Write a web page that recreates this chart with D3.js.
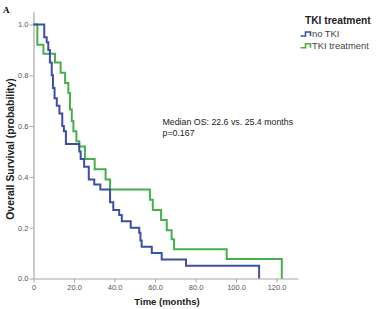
<!DOCTYPE html>
<html>
<head>
<meta charset="utf-8">
<script src="https://cdn.jsdelivr.net/npm/d3@7"></script>
<style>
  body { margin: 0; background: #fff; }
  svg { display: block; }
</style>
</head>
<body>
<div id="chart"></div>
<script>
// groups shown in the legend
const groupNames = ["no TKI", "TKI treatment"];
const groupColors = ["#3c4ea6", "#45b04a"];

// Kaplan-Meier steps (months, survival)
const noTkiTimes = [0, 5.3, 6.5, 7.3, 8.1, 9.0, 9.6, 10.4, 11.5, 12.8, 14.2, 15.0, 16.0, 22.6, 23.3, 25.0, 27.3, 30.0, 33.0, 37.8, 39.4, 42.3, 43.6, 48.0, 52.2, 52.8, 53.4, 58.4, 63.3, 75.3, 111.4];
const noTkiSurv  = [1, 0.95, 0.93, 0.90, 0.85, 0.80, 0.75, 0.71, 0.68, 0.65, 0.60, 0.58, 0.53, 0.50, 0.47, 0.44, 0.39, 0.37, 0.35, 0.30, 0.27, 0.25, 0.225, 0.20, 0.18, 0.15, 0.125, 0.10, 0.075, 0.05, 0];

const tkiTimes = [0, 1.9, 4.9, 10.6, 13.4, 15.6, 17.2, 18.0, 18.9, 19.7, 21.2, 22.6, 25.4, 30.2, 35.6, 37.8, 57.5, 58.9, 63.0, 65.8, 68.2, 69.4, 95.4, 122.6];
const tkiSurv  = [1, 0.92, 0.885, 0.85, 0.81, 0.77, 0.73, 0.665, 0.62, 0.58, 0.54, 0.52, 0.47, 0.43, 0.39, 0.35, 0.31, 0.27, 0.23, 0.19, 0.155, 0.115, 0.077, 0];

const xTicks = [0, 20, 40, 60, 80, 100, 120];
const yTicks = [0, 0.2, 0.4, 0.6, 0.8, 1.0];

const W = 377, H = 309;
const font = "'Liberation Sans', Arial, sans-serif";

let svg = d3.select("#chart")
    .append("svg")
    .attr("width", W)
    .attr("height", H)
    .style("background", "#fff");

// scales
let x = d3.scaleLinear().domain([0, 130.6]).range([33.5, 298]);
let y = d3.scaleLinear().domain([0, 1.05]).range([278.5, 11.8]);

// panel letter
svg.append("text")
    .attr("x", 3).attr("y", 13)
    .style("font-family", "'Liberation Serif', 'Times New Roman', serif")
    .style("font-weight", "bold")
    .style("font-size", "9px")
    .text("A");

// x axis
let xAxis = d3.axisBottom(x)
    .tickValues(xTicks)
    .tickSize(4)
    .tickSizeOuter(0)
    .tickFormat(d => d === 0 ? "0" : d3.format(".1f")(d));
let gx = svg.append("g")
    .attr("transform", "translate(0," + y(0) + ")")
    .call(xAxis);

// y axis
let yAxis = d3.axisLeft(y)
    .tickValues(yTicks)
    .tickSize(4)
    .tickSizeOuter(0)
    .tickFormat(d3.format(".1f"));
let gy = svg.append("g")
    .attr("transform", "translate(" + x(0) + ",0)")
    .call(yAxis);

[gx, gy].forEach(g => {
    g.select(".domain").attr("stroke", "#a6a6a6").attr("stroke-width", 1.2);
    g.selectAll(".tick line").attr("stroke", "#a6a6a6");
    g.selectAll(".tick text")
        .style("font-family", font)
        .style("font-size", "7.5px")
        .attr("fill", "#555");
});
gx.selectAll(".tick text").attr("dy", "0.9em").attr("y", 5);
gy.selectAll(".tick text").attr("x", -5);

// axis titles
svg.append("text")
    .attr("x", 167).attr("y", 305)
    .attr("text-anchor", "middle")
    .style("font-family", font)
    .style("font-weight", "bold")
    .style("font-size", "9.5px")
    .attr("fill", "#222")
    .text("Time (months)");

svg.append("text")
    .attr("transform", "translate(14,149) rotate(-90)")
    .attr("text-anchor", "middle")
    .style("font-family", font)
    .style("font-weight", "bold")
    .style("font-size", "10.4px")
    .attr("fill", "#222")
    .text("Overall Survival (probability)");

// survival curves
let line = d3.line()
    .x(d => x(d[0]))
    .y(d => y(d[1]))
    .curve(d3.curveStepAfter);

let series = [
    d3.zip(tkiTimes, tkiSurv),
    d3.zip(noTkiTimes, noTkiSurv)
];
let seriesColors = [groupColors[1], groupColors[0]];

svg.selectAll(".km")
    .data(series)
    .enter()
    .append("path")
    .attr("class", "km")
    .attr("d", line)
    .attr("fill", "none")
    .attr("stroke", (d, i) => seriesColors[i])
    .attr("stroke-width", 2);

// annotation
let note = svg.append("text")
    .style("font-family", font)
    .style("font-size", "8.8px")
    .attr("fill", "#222");
note.append("tspan").attr("x", 162.5).attr("y", 124.5).text("Median OS: 22.6 vs. 25.4 months");
note.append("tspan").attr("x", 162.5).attr("y", 135.5).text("p=0.167");

// legend
svg.append("text")
    .attr("x", 305).attr("y", 23.5)
    .style("font-family", font)
    .style("font-weight", "bold")
    .style("font-size", "10.2px")
    .attr("fill", "#222")
    .text("TKI treatment");

let leg = svg.selectAll(".leg")
    .data(groupNames)
    .enter()
    .append("g")
    .attr("class", "leg")
    .attr("transform", (d, i) => "translate(300.5," + (34 + i * 11.7) + ")");

leg.append("path")
    .attr("d", "M0,2 H5 V-2 H10 V2")
    .attr("fill", "none")
    .attr("stroke", (d, i) => groupColors[i])
    .attr("stroke-width", 1.6);

leg.append("text")
    .attr("x", 11.5).attr("y", 3.2)
    .style("font-family", font)
    .style("font-size", "9.4px")
    .attr("fill", "#444")
    .text(d => d);
</script>
</body>
</html>
